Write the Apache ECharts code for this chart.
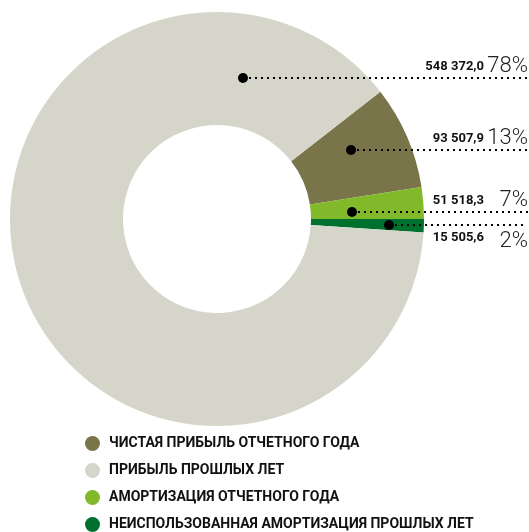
<!DOCTYPE html>
<html>
<head>
<meta charset="utf-8">
<script src="https://cdn.jsdelivr.net/npm/echarts@6/dist/echarts.min.js"></script>
<style>
html,body{margin:0;padding:0;background:#fff;}
#chart{width:529px;height:532px;}
</style>
</head>
<body>
<div id="chart"></div>
<script>
// ---- data ----
const categories = [
  'ЧИСТАЯ ПРИБЫЛЬ ОТЧЕТНОГО ГОДА',
  'АМОРТИЗАЦИЯ ОТЧЕТНОГО ГОДА',
  'НЕИСПОЛЬЗОВАННАЯ АМОРТИЗАЦИЯ ПРОШЛЫХ ЛЕТ',
  'ПРИБЫЛЬ ПРОШЛЫХ ЛЕТ'
];
const amounts = [93507.9, 51518.3, 15505.6, 548372.0];
const percentLabels = ['13%', '7%', '2%', '78%'];
// share of the ring each slice occupies as drawn in the picture (%)
const sliceShares = [8.06, 2.47, 1.03, 88.44];
const legendOrder = [
  'ЧИСТАЯ ПРИБЫЛЬ ОТЧЕТНОГО ГОДА',
  'ПРИБЫЛЬ ПРОШЛЫХ ЛЕТ',
  'АМОРТИЗАЦИЯ ОТЧЕТНОГО ГОДА',
  'НЕИСПОЛЬЗОВАННАЯ АМОРТИЗАЦИЯ ПРОШЛЫХ ЛЕТ'
];

// ---- styling / layout ----
const colors = ['#7a744a', '#82b92a', '#00702f', '#d5d5c9'];
const callouts = [
  {dotX: 351, lineY: 150, lineEnd: 529, below: false},
  {dotX: 352, lineY: 212, lineEnd: 529, below: false},
  {dotX: 389, lineY: 225, lineEnd: 526, below: true},
  {dotX: 243, lineY: 78, lineEnd: 529, below: false}
];

function fmtAmount(v) {
  const parts = v.toFixed(1).split('.');
  const intPart = parts[0].replace(/\B(?=(\d{3})+(?!\d))/g, ' ');
  return intPart + ',' + parts[1];
}

const chart = echarts.init(document.getElementById('chart'), null, {renderer: 'canvas'});

const valueStyle = {fontFamily: 'Roboto', fontWeight: 'bold', fontSize: 13, lineHeight: 14, color: '#111'};
const pctStyle = {fontFamily: 'Roboto', fontWeight: 300, fontSize: 22, lineHeight: 24, color: '#222', width: 44, align: 'right'};

const graphics = [];
callouts.forEach(c => {
  graphics.push({
    type: 'line', z: 90,
    shape: {x1: c.dotX, y1: c.lineY, x2: c.lineEnd, y2: c.lineY},
    style: {stroke: '#000', lineWidth: 2, lineDash: [2, 4]}
  });
  graphics.push({
    type: 'circle', z: 100,
    shape: {cx: c.dotX, cy: c.lineY, r: 5},
    style: {fill: '#000'}
  });
});

const option = {
  animation: false,
  color: colors,
  legend: {
    orient: 'vertical',
    left: 85,
    top: 436,
    padding: 0,
    itemWidth: 15,
    itemHeight: 15,
    itemGap: 12,
    icon: 'circle',
    selectedMode: false,
    data: legendOrder,
    textStyle: {fontFamily: 'Roboto', fontWeight: 'bold', fontSize: 14, lineHeight: 15, color: '#111', padding: [0, 0, 0, 4]}
  },
  graphic: graphics,
  series: [{
    type: 'pie',
    center: [217, 219],
    radius: [94, 207],
    startAngle: 37.9,
    clockwise: true,
    avoidLabelOverlap: false,
    minShowLabelAngle: 0,
    emphasis: {disabled: true},
    itemStyle: {borderWidth: 0},
    label: {
      show: true,
      position: 'outside',
      formatter: p => {
        const i = p.dataIndex;
        const b = callouts[i].below;
        return '{' + (b ? 'vt' : 'v') + '|' + fmtAmount(amounts[i]) + '}{' + (b ? 'pt' : 'p') + '|' + percentLabels[i] + '}';
      },
      rich: {
        v: Object.assign({}, valueStyle, {verticalAlign: 'bottom', padding: [0, 0, 4, 0]}),
        p: Object.assign({}, pctStyle, {verticalAlign: 'bottom'}),
        vt: Object.assign({}, valueStyle, {verticalAlign: 'top', padding: [1, 0, 0, 0]}),
        pt: Object.assign({}, pctStyle, {verticalAlign: 'top'})
      }
    },
    labelLine: {show: false},
    labelLayout: params => {
      const c = callouts[params.dataIndex];
      return {
        x: 528,
        y: c.below ? c.lineY + 5 : c.lineY - 1,
        align: 'right',
        verticalAlign: c.below ? 'top' : 'bottom'
      };
    },
    data: categories.map((name, i) => ({name: name, value: sliceShares[i]}))
  }]
};
chart.setOption(option);
</script>
</body>
</html>
